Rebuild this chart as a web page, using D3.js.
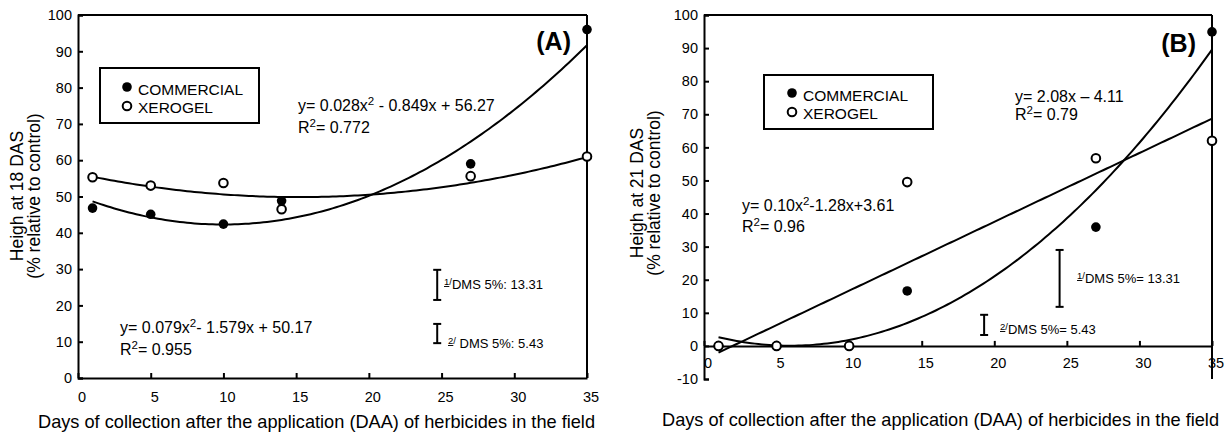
<!DOCTYPE html>
<html>
<head>
<meta charset="utf-8">
<script src="https://cdn.jsdelivr.net/npm/d3@7"></script>
<style>
  body { margin: 0; background: #fff; }
  svg { display: block; font-family: "Liberation Sans", Arial, sans-serif; }
  text { fill: #000; }
</style>
</head>
<body>
<svg id="chart" width="1226" height="436"></svg>
<script>
// days of collection (x values), same for both panels
var days = [1, 5, 10, 14, 27, 35];

// panel A: height at 18 DAS
var commercialA = [46.8, 45.1, 42.4, 48.8, 59.0, 96.0];
var xerogelA = [55.3, 53.0, 53.7, 46.5, 55.6, 61.0];
// panel B: height at 21 DAS
var commercialB = [0, 0, 0, 16.6, 35.9, 94.9];
var xerogelB = [0, 0, 0, 49.5, 56.7, 62.0];

// fitted curves, coefficients [a, b, c] of a*x^2 + b*x + c
var fitA1 = [0.079, -1.579, 50.17];
var fitA2 = [0.028, -0.849, 56.27];
var fitB1 = [0.106, -1.26, 3.8];
var fitB2 = [0, 2.08, -4.11];

var xTicks = [0, 5, 10, 15, 20, 25, 30, 35];
var yTicksA = [0, 10, 20, 30, 40, 50, 60, 70, 80, 90, 100];
var yTicksB = [-10, 0, 10, 20, 30, 40, 50, 60, 70, 80, 90, 100];

var xTitle = "Days of collection after the application (DAA) of herbicides in the field";

var svg = d3.select("#chart");

// text line with superscript parts: [["y= 0.028x"], ["2", "sup"], ...]
function richText(g, x, y, parts, size) {
  var t = g.append("text").attr("x", x).attr("y", y).style("font-size", size + "px");
  var shift = size * 0.4;
  var raised = false;
  parts.forEach(function (p) {
    var s = t.append("tspan").text(p[0]);
    if (p[1] === "sup") {
      s.attr("dy", raised ? 0 : -shift).style("font-size", (size * 0.72) + "px");
      raised = true;
    } else {
      if (raised) s.attr("dy", shift);
      raised = false;
    }
  });
  return t;
}

function dmsBar(g, x, y, xv, top, bot) {
  var px = x(xv);
  g.append("line").attr("x1", px).attr("x2", px).attr("y1", y(top)).attr("y2", y(bot))
    .attr("stroke", "#000").attr("stroke-width", 2);
  [top, bot].forEach(function (v) {
    g.append("line").attr("x1", px - 4).attr("x2", px + 4).attr("y1", y(v)).attr("y2", y(v))
      .attr("stroke", "#000").attr("stroke-width", 2);
  });
}

function dmsLabel(g, xPx, yPx, num, rest) {
  var t = g.append("text").attr("x", xPx).attr("y", yPx).style("font-size", "13px");
  t.append("tspan").attr("dy", -4).style("font-size", "9.5px")
    .style("text-decoration", "underline").text(num);
  t.append("tspan").style("font-size", "9.5px").text("/");
  t.append("tspan").attr("dy", 4).text(rest);
}

function panel(cfg) {
  var x = d3.scaleLinear().domain([0, 35]).range(cfg.xr);
  var y = d3.scaleLinear().domain(cfg.yd).range(cfg.yr);
  var g = svg.append("g");
  var x0 = cfg.xr[0], x1 = cfg.xr[1];
  var axisY = y(cfg.axisAt);

  // frame: top and right
  g.append("line").attr("x1", x0).attr("x2", x1).attr("y1", cfg.yr[1]).attr("y2", cfg.yr[1])
    .attr("stroke", "#000").attr("stroke-width", 2);
  g.append("line").attr("x1", x1).attr("x2", x1).attr("y1", cfg.yr[1]).attr("y2", cfg.yr[0])
    .attr("stroke", "#000").attr("stroke-width", 2);

  // y axis, ticks inside
  var ya = g.append("g").attr("transform", "translate(" + x0 + ",0)")
    .call(d3.axisRight(y).tickValues(cfg.yTicks).tickSize(5).tickFormat(""));
  ya.select(".domain").attr("stroke-width", 2);
  ya.selectAll(".tick line").attr("stroke-width", 2);
  cfg.yTicks.forEach(function (v) {
    g.append("text").attr("x", x0 - 6).attr("y", y(v)).attr("dy", "0.36em")
      .attr("text-anchor", "end").style("font-size", "14.5px").text(v);
  });

  // x axis, ticks pointing up
  var xa = g.append("g").attr("transform", "translate(0," + axisY + ")")
    .call(d3.axisTop(x).tickValues(xTicks).tickSize(5).tickFormat("").tickSizeOuter(0));
  xa.select(".domain").attr("stroke-width", 2);
  xa.selectAll(".tick line").attr("stroke-width", 2);
  xTicks.forEach(function (v) {
    g.append("text").attr("x", x(v) + 4).attr("y", axisY + cfg.xLabDy)
      .attr("text-anchor", "middle").style("font-size", "14.5px").text(v);
  });

  // fitted curves
  cfg.fits.forEach(function (c) {
    var pts = d3.range(1, 35.001, 0.25).map(function (d) {
      return [d, c[0] * d * d + c[1] * d + c[2]];
    });
    g.append("path").datum(pts)
      .attr("d", d3.line().x(function (d) { return x(d[0]); }).y(function (d) { return y(d[1]); }))
      .attr("fill", "none").attr("stroke", "#000").attr("stroke-width", 2);
  });

  // points
  g.selectAll(".com").data(cfg.com).enter().append("circle")
    .attr("cx", function (d, i) { return x(days[i]); })
    .attr("cy", function (d) { return y(d); })
    .attr("r", 4.8).attr("fill", "#000");
  g.selectAll(".xer").data(cfg.xer).enter().append("circle")
    .attr("cx", function (d, i) { return x(days[i]); })
    .attr("cy", function (d) { return y(d); })
    .attr("r", 4.3).attr("fill", "#fff").attr("stroke", "#000").attr("stroke-width", 2);

  // legend
  var L = cfg.legend;
  g.append("rect").attr("x", L[0]).attr("y", L[1]).attr("width", L[2]).attr("height", L[3])
    .attr("fill", "#fff").attr("stroke", "#000").attr("stroke-width", 2);
  g.append("circle").attr("cx", L[4]).attr("cy", L[5]).attr("r", 4.8).attr("fill", "#000");
  g.append("circle").attr("cx", L[4]).attr("cy", L[5] + 19).attr("r", 4.3)
    .attr("fill", "#fff").attr("stroke", "#000").attr("stroke-width", 2);
  g.append("text").attr("x", L[4] + 11).attr("y", L[5] + 8).style("font-size", "15.5px").text("COMMERCIAL");
  g.append("text").attr("x", L[4] + 11).attr("y", L[5] + 26).style("font-size", "15.5px").text("XEROGEL");

  // panel letter
  g.append("text").attr("x", cfg.letter[0]).attr("y", cfg.letter[1]).attr("text-anchor", "end")
    .style("font-size", "25px").style("font-weight", "bold").text(cfg.letter[2]);

  // y label
  var yl = g.append("text").attr("transform", "translate(" + cfg.yLab[0] + "," + cfg.yLab[2] + ") rotate(-90)")
    .attr("text-anchor", "middle").style("font-size", "17.5px");
  yl.append("tspan").attr("x", 0).attr("y", 0).text(cfg.yLab[3]);
  yl.append("tspan").attr("x", 0).attr("y", cfg.yLab[1] - cfg.yLab[0]).text("(% relative to control)");

  // x title
  g.append("text").attr("x", cfg.xTitle[0]).attr("y", cfg.xTitle[1])
    .style("font-size", "18.2px").text(xTitle);

  return { g: g, x: x, y: y };
}

// ---- panel A
var A = panel({
  xr: [78, 587], yd: [0, 100], yr: [378, 15], axisAt: 0, xLabDy: 24,
  yTicks: yTicksA, fits: [fitA1, fitA2], com: commercialA, xer: xerogelA,
  legend: [100, 68, 159, 55, 127, 87],
  letter: [571, 50, "(A)"],
  yLab: [23, 40, 196, "Heigh at 18 DAS"],
  xTitle: [38, 428]
});
richText(A.g, 298, 111, [["y= 0.028x"], ["2", "sup"], [" - 0.849x + 56.27"]], 16);
richText(A.g, 298, 133, [["R"], ["2", "sup"], ["= 0.772"]], 16);
richText(A.g, 120, 333, [["y= 0.079x"], ["2", "sup"], ["- 1.579x + 50.17"]], 16);
richText(A.g, 120, 355, [["R"], ["2", "sup"], ["= 0.955"]], 16);
dmsBar(A.g, A.x, A.y, 24.7, 29.8, 21.5);
dmsBar(A.g, A.x, A.y, 24.7, 14.9, 9.6);
dmsLabel(A.g, 444, 289, "1", "DMS 5%: 13.31");
dmsLabel(A.g, 448, 348, "2", " DMS 5%: 5.43");

// ---- panel B
var B = panel({
  xr: [704, 1212], yd: [-10, 100], yr: [379, 15], axisAt: 0, xLabDy: 22,
  yTicks: yTicksB, fits: [fitB1, fitB2], com: commercialB, xer: xerogelB,
  legend: [764, 75, 169, 54, 792, 93],
  letter: [1196, 52, "(B)"],
  yLab: [643, 660, 193, "Heigh at  21 DAS"],
  xTitle: [662, 426]
});
richText(B.g, 1015, 102, [["y=  2.08x \u2013 4.11"]], 16);
richText(B.g, 1015, 120, [["R"], ["2", "sup"], ["= 0.79"]], 16);
richText(B.g, 742, 211, [["y= 0.10x"], ["2", "sup"], ["-1.28x+3.61"]], 16);
richText(B.g, 742, 232, [["R"], ["2", "sup"], ["= 0.96"]], 16);
dmsBar(B.g, B.x, B.y, 24.5, 29, 11.8);
dmsBar(B.g, B.x, B.y, 19.3, 9.4, 3.3);
dmsLabel(B.g, 1077, 283, "1", "DMS 5%= 13.31");
dmsLabel(B.g, 1000, 334, "2", "DMS 5%= 5.43");
</script>
</body>
</html>
